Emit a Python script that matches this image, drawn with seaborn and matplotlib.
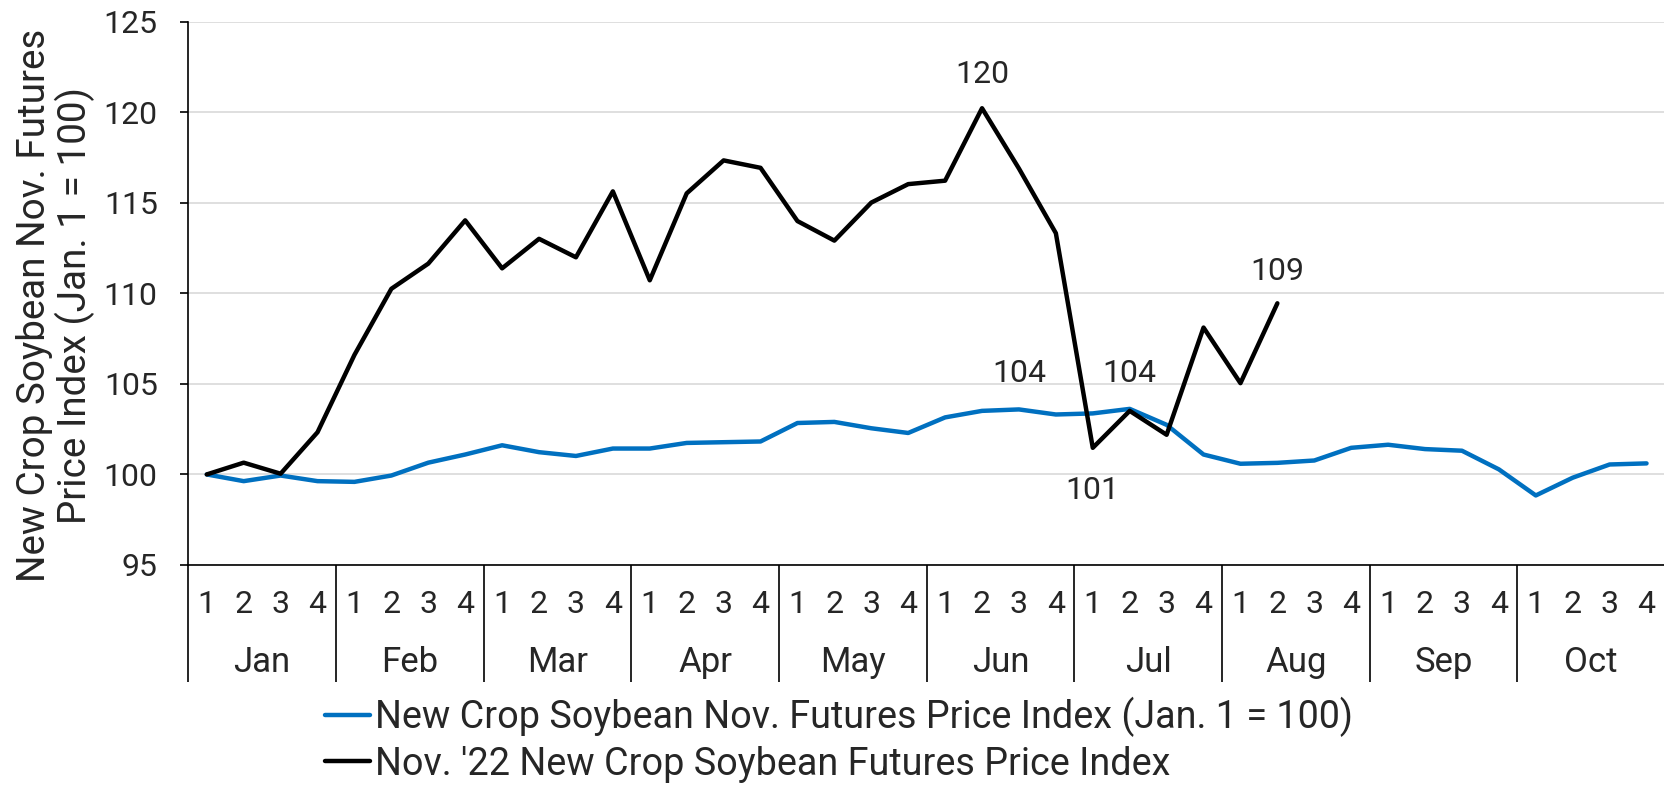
import numpy as np
import pandas as pd
import matplotlib
matplotlib.use("Agg")
import matplotlib.pyplot as plt
import matplotlib.transforms as mtransforms
import seaborn as sns

# weekly index values, Jan wk1 .. Oct wk4
months = ['Jan', 'Feb', 'Mar', 'Apr', 'May', 'Jun', 'Jul', 'Aug', 'Sep', 'Oct']
weeks = ['1', '2', '3', '4']

avg_index = [100.0, 99.63, 99.94, 99.63, 99.59, 99.94, 100.65, 101.10,
             101.61, 101.23, 101.02, 101.43, 101.43, 101.74, 101.78, 101.82,
             102.84, 102.90, 102.55, 102.29, 103.15, 103.51, 103.59, 103.31,
             103.37, 103.62, 102.74, 101.10, 100.59, 100.64, 100.77, 101.47,
             101.64, 101.40, 101.31, 100.28, 98.84, 99.82, 100.55, 100.61]

nov22_index = [100.0, 100.65, 100.04, 102.33, 106.60, 110.25, 111.64, 114.03,
               111.38, 113.01, 111.99, 115.63, 110.72, 115.52, 117.34, 116.93,
               113.99, 112.91, 115.01, 116.03, 116.22, 120.22, 116.89, 113.32,
               101.47, 103.51, 102.19, 108.11, 105.04, 109.45]

# which points get a value label: (series, week position, offset in points)
labels = [('black', 21, (0, 24)), ('blue', 22, (0, 26)), ('black', 24, (0, -31)),
          ('black', 25, (0, 27)), ('black', 29, (0, 23))]

avg_name = 'New Crop Soybean Nov. Futures Price Index (Jan. 1 = 100)'
nov_name = "Nov. '22 New Crop Soybean Futures Price Index"

df = pd.concat([
    pd.DataFrame({'week': np.arange(len(avg_index)), 'value': avg_index, 'series': avg_name}),
    pd.DataFrame({'week': np.arange(len(nov22_index)), 'value': nov22_index, 'series': nov_name}),
])

sns.set_style('white')
plt.rcParams['font.family'] = ['Roboto', 'DejaVu Sans']

fig = plt.figure(figsize=(16.65, 7.88), dpi=100)
ax = fig.add_axes([0.1131, 0.283, 0.8869, 0.6895])

palette = {avg_name: '#0070C0', nov_name: '#000000'}
sns.lineplot(data=df, x='week', y='value', hue='series', palette=palette,
             linewidth=3.2, ax=ax, legend=True)

ax.set_xlim(-0.5, len(avg_index) - 0.5)
ax.set_ylim(95, 125)
ax.set_yticks(np.arange(95, 126, 5))
ax.yaxis.grid(True, color='#D9D9D9', linewidth=1.2)
ax.set_axisbelow(True)
for s in ['top', 'right']:
    ax.spines[s].set_visible(False)
for s in ['left', 'bottom']:
    ax.spines[s].set_color('black')
    ax.spines[s].set_linewidth(1.2)

ax.tick_params(axis='y', left=True, labelsize=23, length=6, width=1.2, color='black', pad=16)

# week labels + month separators
ax.set_xticks(np.arange(len(months) * len(weeks)))
ax.set_xticklabels(weeks * len(months))
ax.tick_params(axis='x', which='major', labelsize=23, length=0, pad=18)
ax.set_xticks(np.arange(len(months)) * len(weeks) - 0.5, minor=True)
ax.tick_params(axis='x', which='minor', bottom=True, length=84, width=1.2,
               color='black', direction='out')

trans = mtransforms.blended_transform_factory(ax.transData, ax.transAxes)
for i, m in enumerate(months):
    ax.text(i * len(weeks) + 1.5, -0.179, m, transform=trans, ha='center', va='center',
            fontsize=25)

ax.set_xlabel('')
ax.set_ylabel('New Crop Soybean Nov. Futures\nPrice Index (Jan. 1 = 100)', fontsize=27.8,
              linespacing=1.08)
ax.yaxis.set_label_coords(-0.063, 0.478)

series_vals = {'blue': avg_index, 'black': nov22_index}
for s, idx, off in labels:
    v = series_vals[s][idx]
    ax.annotate(f'{round(v)}', xy=(idx, v), xytext=off, textcoords='offset points',
                ha='center', va='center', fontsize=23)

handles, lbls = ax.get_legend_handles_labels()
ax.legend(handles, lbls, loc='upper left', bbox_to_anchor=(325 / 1665, 1 - 697 / 788),
          bbox_transform=fig.transFigure, frameon=False, fontsize=27.2, handlelength=1.2,
          handletextpad=0.12, labelspacing=0.22, borderpad=0, borderaxespad=0)

fig.savefig('out.png', dpi=100)
